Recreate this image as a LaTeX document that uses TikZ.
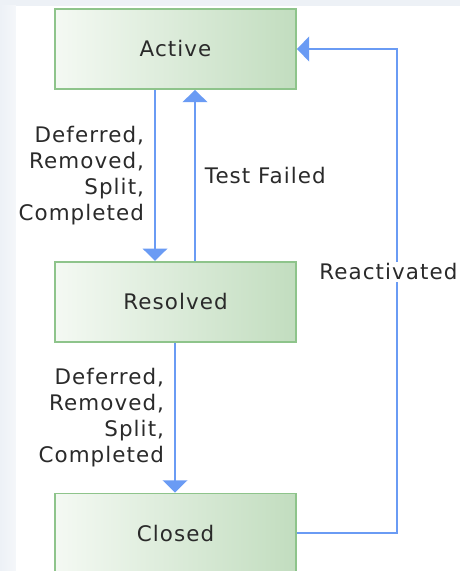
\documentclass[tikz,border=0pt]{standalone}
\usepackage{fontspec}
\setmainfont{DejaVu Sans}[LetterSpace=5]
\usetikzlibrary{arrows.meta, positioning}
\definecolor{boxline}{HTML}{8EC48B}
\definecolor{boxlight}{HTML}{F4F9F3}
\definecolor{boxdark}{HTML}{C2DDBF}
\definecolor{flow}{HTML}{6A9BF4}
\definecolor{txt}{HTML}{2A2A2A}
\definecolor{frame}{HTML}{EDF1F6}
\definecolor{framelight}{HTML}{F5F7FA}

\begin{document}
\begin{tikzpicture}[
x=0.02cm, y=-0.02cm,
font=\fontsize{12.2}{14.7}\selectfont,
state/.style={rectangle, draw=boxline, line width=1pt, left color=boxlight, right color=boxdark, text=txt, minimum width=4.82cm, minimum height=1.6cm},
lbl/.style={align=right, text=txt, inner sep=0pt},
arr/.style={-{Triangle[width=14pt, length=7pt]}, draw=flow, line width=1.1pt}
]
% frame
\useasboundingbox (0,0) rectangle (460,571);
\fill[frame] (0,0) rectangle (460,571);
\shade[left color=frame, right color=framelight] (0,6) rectangle (16,571);
\fill[white] (16,6) rectangle (460,571);
% states
\node[state] (active) at (175.5,49) {Active};
\node[state, below=3.42cm of active] (resolved) {Resolved};
\node[state, below=3cm of resolved] (closed) {Closed};
% transitions
\draw[arr] ([xshift=-0.41cm]active.south) -- node[lbl, left=0.2cm] {Deferred,\\Removed,\\Split,\\Completed} ([xshift=-0.41cm]resolved.north);
\draw[arr] ([xshift=0.39cm]resolved.north) -- node[lbl, right=0.18cm] {Test Failed} ([xshift=0.39cm]active.south);
\draw[arr] ([xshift=-0.01cm]resolved.south) -- node[lbl, left=0.2cm] {Deferred,\\Removed,\\Split,\\Completed} ([xshift=-0.01cm]closed.north);
\draw[arr] (closed.east) -- ++(100,0) |- node[pos=0.27, xshift=-0.17cm, fill=white, text=txt, inner sep=1pt] {Reactivated} (active.east);
\end{tikzpicture}
\end{document}
